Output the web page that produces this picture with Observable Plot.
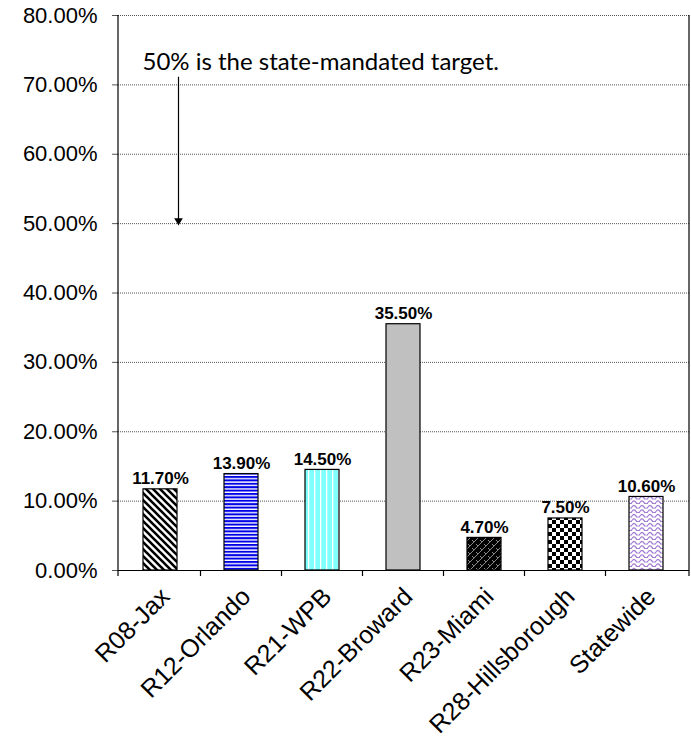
<!DOCTYPE html>
<html><head><meta charset="utf-8">
<script src="https://cdn.jsdelivr.net/npm/d3@7"></script>
<script src="https://cdn.jsdelivr.net/npm/@observablehq/plot@0.6"></script>
<style>body{margin:0;background:#fff} #chart svg{display:block}</style>
</head><body><div id="chart"></div>
<script>
// ---- data ----
const categories = ["R08-Jax","R12-Orlando","R21-WPB","R22-Broward","R23-Miami","R28-Hillsborough","Statewide"];
const values = [0.117, 0.139, 0.145, 0.355, 0.047, 0.075, 0.106];
const yTicks = [0, 0.1, 0.2, 0.3, 0.4, 0.5, 0.6, 0.7, 0.8];
const annotationText = "50% is the state-mandated target.";
const targetValue = 0.5;
const annotationLevel = 0.722;

// ---- styles ----
const barFills = ["url(#pJax)","url(#pOrl)","url(#pWpb)","#c0c0c0","url(#pMia)","url(#pHil)","url(#pSta)"];

const data = categories.map((c, i) => ({category: c, value: values[i], fill: barFills[i]}));
const pct = d3.format(".2%");

const chart = Plot.plot({
  width: 691, height: 744,
  marginLeft: 118, marginRight: 2, marginTop: 15, marginBottom: 174,
  style: {fontFamily: "'Liberation Sans', Arial, sans-serif", fontSize: "22px", color: "#000", background: "#fff", overflow: "visible"},
  x: {domain: categories, paddingInner: 0.58, paddingOuter: 0.29, label: null},
  y: {domain: [0, 0.8], label: null},
  color: {type: "identity"},
  marks: [
    Plot.gridY(yTicks, {stroke: "#555", strokeOpacity: 1, strokeDasharray: "1,1", strokeWidth: 1}),
    Plot.axisY(yTicks, {tickFormat: pct, tickSize: 6, tickPadding: 15, fontSize: 22, label: null, stroke: "#555"}),
    Plot.axisX({tickSize: 0, tickRotate: -45, tickPadding: 10, fontSize: 25, dx: 5, dy: 12, label: null}),
    Plot.barY(data, {x: "category", y: "value", fill: "fill", stroke: "#000", strokeWidth: 1.2}),
    Plot.text(data, {x: "category", y: "value", text: d => pct(d.value), dy: -5, lineAnchor: "bottom",
      fontWeight: "bold", fontSize: 17, fontFamily: "'Liberation Sans', Arial, sans-serif"}),
    Plot.ruleY([0], {stroke: "#000", strokeWidth: 1.2}),
    Plot.text([annotationText], {x: () => categories[0], y: () => annotationLevel, text: d => d,
      textAnchor: "start", lineAnchor: "bottom", dx: -18, fontSize: 24, fontFamily: "Lato, 'Open Sans', sans-serif"}),
    Plot.ruleX([categories[0]], {y1: () => 0.711, y2: () => targetValue, dx: 18, stroke: "#000", strokeWidth: 1.2}),
    Plot.dot([targetValue], {x: () => categories[0], y: d => d, dx: 18, dy: -3, symbol: "triangle", r: 3.2, rotate: 180, fill: "#000", stroke: "none"})
  ]
});
document.getElementById("chart").appendChild(chart);

// ---- patterns & axis lines using the plot's scales ----
const svg = d3.select(chart);
const defs = svg.insert("defs", ":first-child");
function pat(id, w, h) {
  return defs.append("pattern").attr("id", id).attr("patternUnits", "userSpaceOnUse").attr("width", w).attr("height", h);
}
let p = pat("pJax", 7, 7);
p.append("rect").attr("width", 7).attr("height", 7).attr("fill", "#fff");
p.append("path").attr("d", "M-1,-1L8,8M-4.5,2.5L4.5,11.5M2.5,-4.5L11.5,4.5").attr("stroke", "#000").attr("stroke-width", 2.6);
p = pat("pOrl", 4, 3.4);
p.append("rect").attr("width", 4).attr("height", 3.4).attr("fill", "#fff");
p.append("rect").attr("width", 4).attr("height", 2).attr("fill", "#0000e6");
p = pat("pWpb", 6, 6);
p.append("rect").attr("width", 6).attr("height", 6).attr("fill", "#80ffff");
p.append("rect").attr("x", 2).attr("width", 1.3).attr("height", 6).attr("fill", "#fff");
p = pat("pMia", 8, 8);
p.append("rect").attr("width", 8).attr("height", 8).attr("fill", "#000");
p.append("path").attr("d", "M0,8L8,0M0,4L2,6M4,0L6,2M4,8L6,10").attr("stroke", "#888").attr("stroke-width", 1).attr("fill", "none");
p = pat("pHil", 8, 8);
p.append("rect").attr("width", 8).attr("height", 8).attr("fill", "#fff");
p.append("rect").attr("width", 4).attr("height", 4).attr("fill", "#000");
p.append("rect").attr("x", 4).attr("y", 4).attr("width", 4).attr("height", 4).attr("fill", "#000");
p = pat("pSta", 8, 4.5);
p.append("rect").attr("width", 8).attr("height", 4.5).attr("fill", "#fff");
p.append("path").attr("d", "M0,3Q2,0 4,3T8,3").attr("stroke", "#8a5cc8").attr("stroke-width", 1).attr("fill", "none");

const sx = chart.scale("x"), sy = chart.scale("y");
const [x0, x1] = sx.range;
const y0 = sy.apply(0), yTop = sy.apply(0.8);
const bounds = [x0];
for (let i = 1; i < categories.length; i++) {
  bounds.push((sx.apply(categories[i - 1]) + sx.bandwidth + sx.apply(categories[i])) / 2);
}
bounds.push(x1);
const g = svg.append("g").attr("stroke", "#000").attr("stroke-width", 1.2);
g.append("line").attr("x1", x0).attr("x2", x0).attr("y1", yTop).attr("y2", y0);
g.append("line").attr("x1", x1).attr("x2", x1).attr("y1", yTop).attr("y2", y0);
g.selectAll("line.tk").data(bounds).join("line").attr("class", "tk")
  .attr("x1", d => d).attr("x2", d => d).attr("y1", y0).attr("y2", y0 + 6);
</script>
</body></html>
